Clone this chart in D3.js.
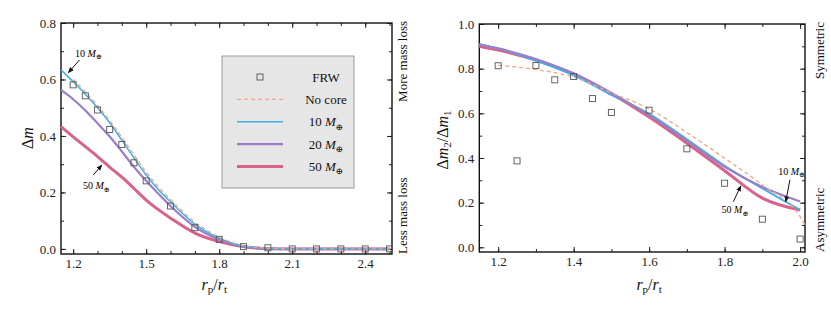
<!DOCTYPE html>
<html>
<head>
<meta charset="utf-8">
<script src="https://cdn.jsdelivr.net/npm/d3@7"></script>
<style>
  body { margin: 0; background: #fff; }
  svg { display: block; font-family: "Liberation Serif", "DejaVu Serif", serif; }
  .tick text { font-family: "Liberation Serif", "DejaVu Serif", serif; font-size: 13px; fill: #222; }
  .tick line { stroke: #222; stroke-width: 1; }
</style>
</head>
<body>
<svg width="831" height="316"></svg>
<script>
// left panel: mass loss
const leftX     = [1.15, 1.2, 1.25, 1.3, 1.35, 1.4, 1.45, 1.5, 1.55, 1.6, 1.7, 1.8, 1.9, 2.0, 2.1, 2.2, 2.3, 2.4, 2.5];
const left10    = [0.634, 0.592, 0.548, 0.500, 0.447, 0.385, 0.322, 0.262, 0.210, 0.167, 0.088, 0.038, 0.010, 0.002, 0, 0, 0, 0, 0];
const left20    = [0.563, 0.530, 0.490, 0.445, 0.398, 0.345, 0.290, 0.241, 0.195, 0.152, 0.078, 0.033, 0.009, 0.002, 0, 0, 0, 0, 0];
const left50    = [0.433, 0.397, 0.362, 0.327, 0.290, 0.254, 0.214, 0.173, 0.139, 0.109, 0.056, 0.026, 0.008, 0.001, 0, 0, 0, 0, 0];
const leftNoCore = [null, 0.600, 0.556, 0.508, 0.455, 0.395, 0.333, 0.272, 0.220, 0.175, 0.095, 0.042, 0.012, 0.003, 0, 0, 0, 0, 0];
const leftFrwX  = [1.2, 1.25, 1.3, 1.35, 1.4, 1.45, 1.5, 1.6, 1.7, 1.8, 1.9, 2.0, 2.1, 2.2, 2.3, 2.4, 2.5];
const leftFrwY  = [0.581, 0.542, 0.492, 0.423, 0.370, 0.305, 0.241, 0.152, 0.075, 0.034, 0.008, 0.004, 0, 0, 0, 0, 0];

// right panel: asymmetry ratio
const rightX     = [1.15, 1.2, 1.25, 1.3, 1.35, 1.4, 1.5, 1.6, 1.7, 1.8, 1.9, 2.0];
const right10    = [0.910, 0.890, 0.865, 0.836, 0.805, 0.770, 0.683, 0.598, 0.484, 0.365, 0.264, 0.167];
const right20    = [0.908, 0.891, 0.869, 0.843, 0.813, 0.779, 0.690, 0.592, 0.478, 0.360, 0.270, 0.205];
const right50    = [0.900, 0.883, 0.862, 0.838, 0.808, 0.775, 0.688, 0.583, 0.466, 0.343, 0.220, 0.167];
const rightNoCoreX = [1.2, 1.3, 1.4, 1.5, 1.6, 1.7, 1.8, 1.9, 2.0, 2.013];
const rightNoCore  = [0.815, 0.796, 0.762, 0.692, 0.620, 0.514, 0.399, 0.279, 0.137, 0.100];
const rightFrwX  = [1.2, 1.25, 1.3, 1.35, 1.4, 1.45, 1.5, 1.6, 1.7, 1.8, 1.9, 2.0];
const rightFrwY  = [0.813, 0.387, 0.814, 0.750, 0.765, 0.666, 0.604, 0.614, 0.441, 0.287, 0.126, 0.037];

const legendLabels = ["FRW", "No core", "10", "20", "50"];

const colors = { nocore: "#f4a582", m10: "#3fb0e6", m20: "#9a7fc6", m50: "#d8628c", frw: "#555" };

const svg = d3.select("svg");

// one panel = frame + ticks on all four sides
function panel(xs, ys, xMajor, xMinor, yMajor, yMinor, fmt) {
  const g = svg.append("g");
  const [x0, x1] = xs.range(), [y0, y1] = ys.range();

  const axes = [
    [d3.axisBottom(xs), y0, 0, xMajor, xMinor, true],
    [d3.axisTop(xs), y1, 0, xMajor, xMinor, false],
    [d3.axisLeft(ys), 0, x0, yMajor, yMinor, true],
    [d3.axisRight(ys), 0, x1, yMajor, yMinor, false]
  ];
  axes.forEach(([ax, ty, tx, maj, min, lab]) => {
    g.append("g").attr("transform", `translate(${tx},${ty})`)
      .call(ax.tickValues(min).tickSize(-3).tickSizeOuter(0).tickFormat(""))
      .call(s => s.select(".domain").remove());
    g.append("g").attr("transform", `translate(${tx},${ty})`)
      .call(ax.tickValues(maj).tickSize(-5).tickSizeOuter(0).tickPadding(5)
        .tickFormat(lab ? fmt : ""))
      .call(s => s.select(".domain").remove());
  });

  g.append("rect")
    .attr("x", x0).attr("y", y1)
    .attr("width", x1 - x0).attr("height", y0 - y1)
    .attr("fill", "none").attr("stroke", "#111").attr("stroke-width", 1.4);
  return g;
}

function series(g, xs, ys, xv, yv, color, width, dash) {
  const line = d3.line()
    .defined((d, i) => yv[i] != null)
    .x((d, i) => xs(xv[i]))
    .y((d, i) => ys(yv[i]))
    .curve(d3.curveMonotoneX);
  g.append("path")
    .attr("d", line(xv))
    .attr("fill", "none")
    .attr("stroke", color)
    .attr("stroke-width", width)
    .attr("stroke-dasharray", dash || null);
}

function squares(g, xs, ys, xv, yv) {
  g.selectAll(null).data(xv).enter().append("rect")
    .attr("x", (d, i) => xs(d) - 3)
    .attr("y", (d, i) => ys(yv[i]) - 3)
    .attr("width", 6).attr("height", 6)
    .attr("fill", "none")
    .attr("stroke", colors.frw)
    .attr("stroke-width", 0.9);
}

// "10 M⊕" style label
function massText(sel, n, size) {
  sel.attr("font-size", size);
  sel.append("tspan").text(n + " ");
  sel.append("tspan").attr("font-style", "italic").text("M");
  sel.append("tspan").attr("font-size", size * 0.7).attr("dy", size * 0.25).text("⊕");
}

function arrow(g, x1, y1, x2, y2) {
  g.append("line")
    .attr("x1", x1).attr("y1", y1).attr("x2", x2).attr("y2", y2)
    .attr("stroke", "#111").attr("stroke-width", 1)
    .attr("marker-end", "url(#head)");
}

svg.append("defs").append("marker")
  .attr("id", "head").attr("viewBox", "0 0 10 10")
  .attr("refX", 9).attr("refY", 5)
  .attr("markerWidth", 6).attr("markerHeight", 6)
  .attr("orient", "auto")
  .append("path").attr("d", "M0,1 L10,5 L0,9 z").attr("fill", "#111");

function xTitle(cx) {
  const t = svg.append("text").attr("x", cx).attr("y", 290)
    .attr("text-anchor", "middle").attr("font-size", 16).attr("fill", "#111");
  t.append("tspan").attr("font-style", "italic").text("r");
  t.append("tspan").attr("font-size", 11).attr("dy", 3).text("p");
  t.append("tspan").attr("dy", -3).text("/");
  t.append("tspan").attr("font-style", "italic").text("r");
  t.append("tspan").attr("font-size", 11).attr("dy", 3).text("t");
}

function sideNote(x, y, anchor, txt) {
  svg.append("text")
    .attr("transform", `translate(${x},${y}) rotate(-90)`)
    .attr("text-anchor", anchor)
    .attr("font-size", 13).attr("fill", "#111")
    .text(txt);
}

// ---------- left panel ----------
const xL = d3.scaleLinear().domain([1.15, 2.51]).range([61, 392]);
const yL = d3.scaleLinear().domain([-0.018, 0.8]).range([254, 23]);
const gL = panel(xL, yL,
  [1.2, 1.5, 1.8, 2.1, 2.4], d3.range(12, 26).map(d => d / 10),
  [0, 0.2, 0.4, 0.6, 0.8], d3.range(0, 8).map(d => d / 10),
  d3.format(".1f"));

series(gL, xL, yL, leftX, left50, colors.m50, 3);
series(gL, xL, yL, leftX, left20, colors.m20, 2.2);
series(gL, xL, yL, leftX, left10, colors.m10, 1.5);
series(gL, xL, yL, leftX, leftNoCore, colors.nocore, 1.3, "4,3");
squares(gL, xL, yL, leftFrwX, leftFrwY);

massText(gL.append("text").attr("x", xL(1.208)).attr("y", yL(0.681)), 10, 10);
arrow(gL, xL(1.226), yL(0.669), xL(1.18), yL(0.624));
massText(gL.append("text").attr("x", xL(1.24)).attr("y", yL(0.211)), 50, 10);
arrow(gL, xL(1.283), yL(0.262), xL(1.318), yL(0.297));

// legend
const leg = svg.append("g");
leg.append("rect").attr("x", 222).attr("y", 56).attr("width", 132).attr("height", 132)
  .attr("fill", "#e6e6e6").attr("stroke", "#999").attr("stroke-width", 1);
const legStyle = [
  { c: colors.frw, w: 0, dash: null },
  { c: colors.nocore, w: 1.3, dash: "4,3" },
  { c: colors.m10, w: 1.5, dash: null },
  { c: colors.m20, w: 2.2, dash: null },
  { c: colors.m50, w: 3, dash: null }
];
legendLabels.forEach((lab, i) => {
  const cy = 77 + i * 22.4;
  const st = legStyle[i];
  if (i === 0) {
    leg.append("rect").attr("x", 257).attr("y", cy - 3).attr("width", 6).attr("height", 6)
      .attr("fill", "none").attr("stroke", st.c).attr("stroke-width", 0.9);
  } else {
    leg.append("line").attr("x1", 237).attr("x2", 283).attr("y1", cy).attr("y2", cy)
      .attr("stroke", st.c).attr("stroke-width", st.w).attr("stroke-dasharray", st.dash);
  }
  const t = leg.append("text").attr("x", 326).attr("y", cy + 4.5)
    .attr("text-anchor", "middle").attr("fill", "#111");
  if (i < 2) t.attr("font-size", 13).text(lab);
  else massText(t, lab, 13);
});

// left axis titles
const tL = svg.append("text").attr("transform", "translate(33,138) rotate(-90)")
  .attr("text-anchor", "middle").attr("font-size", 16).attr("fill", "#111");
tL.append("tspan").text("Δ");
tL.append("tspan").attr("font-style", "italic").text("m");
xTitle(xL(1.78));
sideNote(407, 21, "end", "More mass loss");
sideNote(407, 254, "start", "Less mass loss");

// ---------- right panel ----------
const xR = d3.scaleLinear().domain([1.15, 2.013]).range([479.3, 805]);
const yR = d3.scaleLinear().domain([-0.021, 1.0]).range([252, 24]);
const gR = panel(xR, yR,
  [1.2, 1.4, 1.6, 1.8, 2.0], d3.range(12, 21).map(d => d / 10),
  [0, 0.2, 0.4, 0.6, 0.8, 1.0], d3.range(0, 11).map(d => d / 10),
  d3.format(".1f"));

series(gR, xR, yR, rightX, right50, colors.m50, 3);
series(gR, xR, yR, rightX, right10, colors.m10, 2);
series(gR, xR, yR, rightX, right20, colors.m20, 2.2);
series(gR, xR, yR, rightNoCoreX, rightNoCore, colors.nocore, 1.3, "4,3");
squares(gR, xR, yR, rightFrwX, rightFrwY);

massText(gR.append("text").attr("x", xR(1.942)).attr("y", yR(0.324)), 10, 10);
arrow(gR, xR(1.973), yR(0.302), xR(1.962), yR(0.204));
massText(gR.append("text").attr("x", xR(1.792)).attr("y", yR(0.152)), 50, 10);
arrow(gR, xR(1.823), yR(0.204), xR(1.843), yR(0.275));

const tR = svg.append("text").attr("transform", "translate(448,140) rotate(-90)")
  .attr("text-anchor", "middle").attr("font-size", 16).attr("fill", "#111");
tR.append("tspan").text("Δ");
tR.append("tspan").attr("font-style", "italic").text("m");
tR.append("tspan").attr("font-size", 11).attr("dy", 3).text("2");
tR.append("tspan").attr("dy", -3).text("/Δ");
tR.append("tspan").attr("font-style", "italic").text("m");
tR.append("tspan").attr("font-size", 11).attr("dy", 3).text("1");
xTitle(xR(1.6));
sideNote(824, 22, "end", "Symmetric");
sideNote(824, 252, "start", "Asymmetric");
</script>
</body>
</html>
